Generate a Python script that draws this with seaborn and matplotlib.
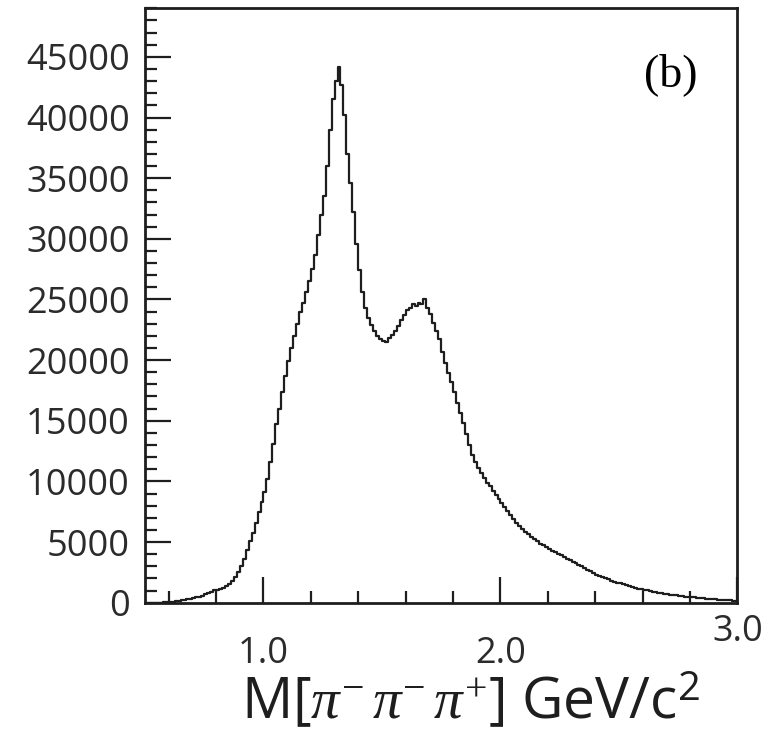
import numpy as np
import pandas as pd
import matplotlib
matplotlib.use("Agg")
import matplotlib.pyplot as plt
from matplotlib.ticker import FixedLocator, MultipleLocator
import seaborn as sns

# Three-pion invariant mass spectrum, 200 bins of 12.5 MeV from 0.5 to 3.0 GeV/c^2
mass_lo, mass_hi = 0.5, 3.0
counts = [
    0, 0, 0, 0, 0, 10, 20, 40,
    60, 90, 120, 160, 200, 250, 300, 340,
    380, 430, 500, 580, 680, 790, 900, 1020,
    1080, 1150, 1240, 1360, 1540, 1800, 2150, 2550,
    3050, 3600, 4350, 5050, 5750, 6600, 7450, 8300,
    9150, 10200, 11600, 13100, 14700, 16000, 17400, 18700,
    19900, 21000, 22000, 23000, 24000, 24700, 25600, 26500,
    27500, 28700, 30300, 32000, 33500, 36000, 39000, 41500,
    43000, 44200, 42700, 40200, 37000, 34600, 32200, 29600,
    27400, 25600, 24300, 23500, 22900, 22400, 22000, 21700,
    21600, 21500, 21800, 22100, 22400, 22800, 23300, 23700,
    24100, 24300, 24600, 24500, 24700, 24600, 25000, 24300,
    23800, 23100, 22400, 21700, 20700, 19800, 18900, 18200,
    17400, 16500, 15600, 14800, 13900, 13000, 12200, 11600,
    11100, 10700, 10300, 9900, 9600, 9200, 8900, 8550,
    8250, 7900, 7550, 7200, 6900, 6600, 6350, 6050,
    5850, 5650, 5450, 5250, 5050, 4870, 4720, 4580,
    4400, 4270, 4150, 4030, 3900, 3770, 3640, 3510,
    3390, 3260, 3130, 2990, 2850, 2720, 2580, 2450,
    2310, 2210, 2110, 2010, 1920, 1830, 1740, 1660,
    1590, 1520, 1450, 1380, 1300, 1230, 1170, 1110,
    1060, 1010, 960, 910, 870, 830, 790, 750,
    710, 670, 635, 600, 570, 540, 510, 480,
    460, 435, 410, 385, 360, 340, 315, 295,
    275, 255, 240, 220, 205, 190, 175, 160,
]
x_major = [1.0, 2.0, 3.0]
x_major_labels = ["1.0", "2.0", "3.0"]
x_minor = [0.6, 0.8, 1.2, 1.4, 1.6, 1.8, 2.2, 2.4, 2.6, 2.8]
y_major = [0, 5000, 10000, 15000, 20000, 25000, 30000, 35000, 40000, 45000]
y_top = 49000
panel_tag = "(b)"
x_title = r"M[$\pi^{-}\,\pi^{-}\,\pi^{+}$] GeV/c$^{\mathsf{2}}$"

edges = np.linspace(mass_lo, mass_hi, len(counts) + 1)
centers = 0.5 * (edges[:-1] + edges[1:])
df = pd.DataFrame({"mass": centers, "n": counts})

sns.set_style("ticks")
plt.rcParams["font.family"] = ["Open Sans", "DejaVu Sans"]
plt.rcParams["mathtext.fontset"] = "custom"
plt.rcParams["mathtext.rm"] = "Liberation Serif"
plt.rcParams["mathtext.it"] = "Liberation Serif:italic"
plt.rcParams["mathtext.sf"] = "Open Sans"

ink = "#1e1e1e"
label_ink = "#2b2b2b"

fig = plt.figure(figsize=(7.74, 7.31), dpi=100)
ax = fig.add_axes([0.1873, 0.1755, 0.7655, 0.8131])

sns.histplot(data=df, x="mass", weights="n", bins=edges.tolist(),
             element="step", fill=False, color=ink, linewidth=1.6, ax=ax)

ax.set_xlim(mass_lo, mass_hi)
ax.set_ylim(0, y_top)
ax.set_ylabel("")
ax.set_xlabel(x_title, fontsize=41, color=ink, labelpad=0)
ax.xaxis.label.set_verticalalignment("baseline")
ax.xaxis.set_label_coords(0.550, -0.196)

for s in ax.spines.values():
    s.set_visible(True)
    s.set_linewidth(2.0)
    s.set_color(ink)

ax.xaxis.set_major_locator(FixedLocator(x_major))
ax.xaxis.set_minor_locator(FixedLocator(x_minor))
ax.set_xticklabels(x_major_labels)
ax.yaxis.set_major_locator(FixedLocator(y_major))
ax.yaxis.set_minor_locator(MultipleLocator(1000))

ax.tick_params(axis="both", which="both", direction="in", color=ink,
               width=1.6, top=False, right=False)
ax.tick_params(axis="both", which="major", length=18.5, labelsize=26,
               labelcolor=label_ink)
ax.tick_params(axis="both", which="minor", length=8.5)
ax.tick_params(axis="x", which="major", pad=24)
ax.tick_params(axis="y", which="major", pad=11)

# the label at the right end sits higher than the others
ax.xaxis.get_major_ticks()[2].set_pad(8)

ax.text(0.888, 0.889, panel_tag, transform=ax.transAxes, ha="center",
        va="center", fontsize=33, family="Liberation Serif", color="black")

fig.savefig("out.png", dpi=100)
